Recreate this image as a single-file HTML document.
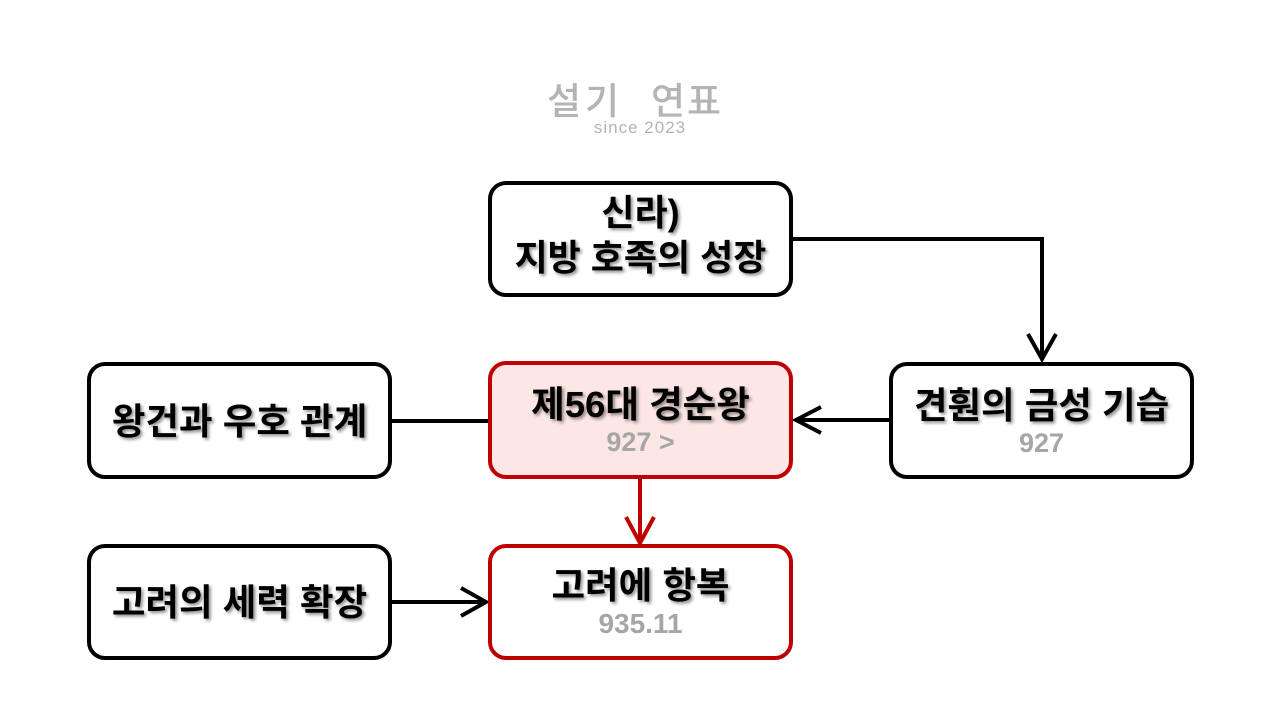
<!DOCTYPE html>
<html>
<head>
<meta charset="utf-8">
<style>
html,body{margin:0;padding:0;background:#fff;}
#c{position:relative;width:1280px;height:720px;overflow:hidden;background:#fff;}
svg{position:absolute;left:0;top:0;}
.t{position:absolute;text-align:center;font-family:"Liberation Sans","Noto Sans CJK KR",sans-serif;font-weight:bold;white-space:nowrap;}
.m{font-size:36.5px;color:#000;text-shadow:2px 2px 3px rgba(0,0,0,0.45);line-height:40px;height:40px;}
.top{font-size:36px;color:#000;text-shadow:2px 2px 3px rgba(0,0,0,0.45);line-height:45px;}
.s{font-size:27px;color:#a6a6a6;line-height:30px;height:30px;}
.wm{position:absolute;font-family:"Noto Sans CJK KR",sans-serif;color:#b4b4b4;white-space:nowrap;}
</style>
</head>
<body>
<div id="c">
<svg width="1280" height="720" viewBox="0 0 1280 720">
  <g fill="none" stroke="#000" stroke-width="4" stroke-linejoin="miter" stroke-linecap="butt">
    <path d="M791,239 H1042 V358"/>
    <polyline points="1028,334 1042,359 1056,334"/>
    <path d="M891,420 H796"/>
    <polyline points="821,407 796,420 821,433"/>
    <path d="M390,421 H490"/>
    <path d="M390,602 H486"/>
    <polyline points="461,588 486,602 461,616"/>
  </g>
  <g fill="none" stroke="#c00000" stroke-width="4">
    <path d="M640,478 V542"/>
    <polyline points="626,517 640,543 654,517"/>
  </g>
  <g stroke-width="4">
    <rect x="490" y="183" width="301" height="112" rx="16" fill="#fff" stroke="#000"/>
    <rect x="89" y="364" width="301" height="113" rx="16" fill="#fff" stroke="#000"/>
    <rect x="490" y="363" width="301" height="114" rx="16" fill="#fce6e6" stroke="#c00000"/>
    <rect x="891" y="364" width="301" height="113" rx="16" fill="#fff" stroke="#000"/>
    <rect x="89" y="546" width="301" height="112" rx="16" fill="#fff" stroke="#000"/>
    <rect x="490" y="546" width="301" height="112" rx="16" fill="#fff" stroke="#c00000"/>
  </g>
</svg>

<div class="wm" style="left:547px;top:76px;font-size:37px;letter-spacing:4px;line-height:44px;font-weight:500;">설기</div>
<div class="wm" style="left:651px;top:76px;font-size:37px;letter-spacing:2px;line-height:44px;font-weight:500;">연표</div>
<div class="wm" style="left:0;width:1280px;text-align:center;top:117px;font-size:17px;letter-spacing:1px;line-height:22px;font-family:'Liberation Sans',sans-serif;">since 2023</div>

<div class="t top" style="left:490px;width:301px;top:190px;">신라)<br>지방 호족의 성장</div>

<div class="t m" style="left:89px;width:301px;top:402px;">왕건과 우호 관계</div>

<div class="t m" style="left:490px;width:301px;top:385px;">제56대 경순왕</div>
<div class="t s" style="left:490px;width:301px;top:427px;">927 &gt;</div>

<div class="t m" style="left:891px;width:301px;top:386px;">견훤의 금성 기습</div>
<div class="t s" style="left:891px;width:301px;top:428px;">927</div>

<div class="t m" style="left:89px;width:301px;top:583px;">고려의 세력 확장</div>

<div class="t m" style="left:490px;width:301px;top:566px;">고려에 항복</div>
<div class="t s" style="left:490px;width:301px;top:609px;font-size:28px;">935.11</div>
</div>
</body>
</html>
